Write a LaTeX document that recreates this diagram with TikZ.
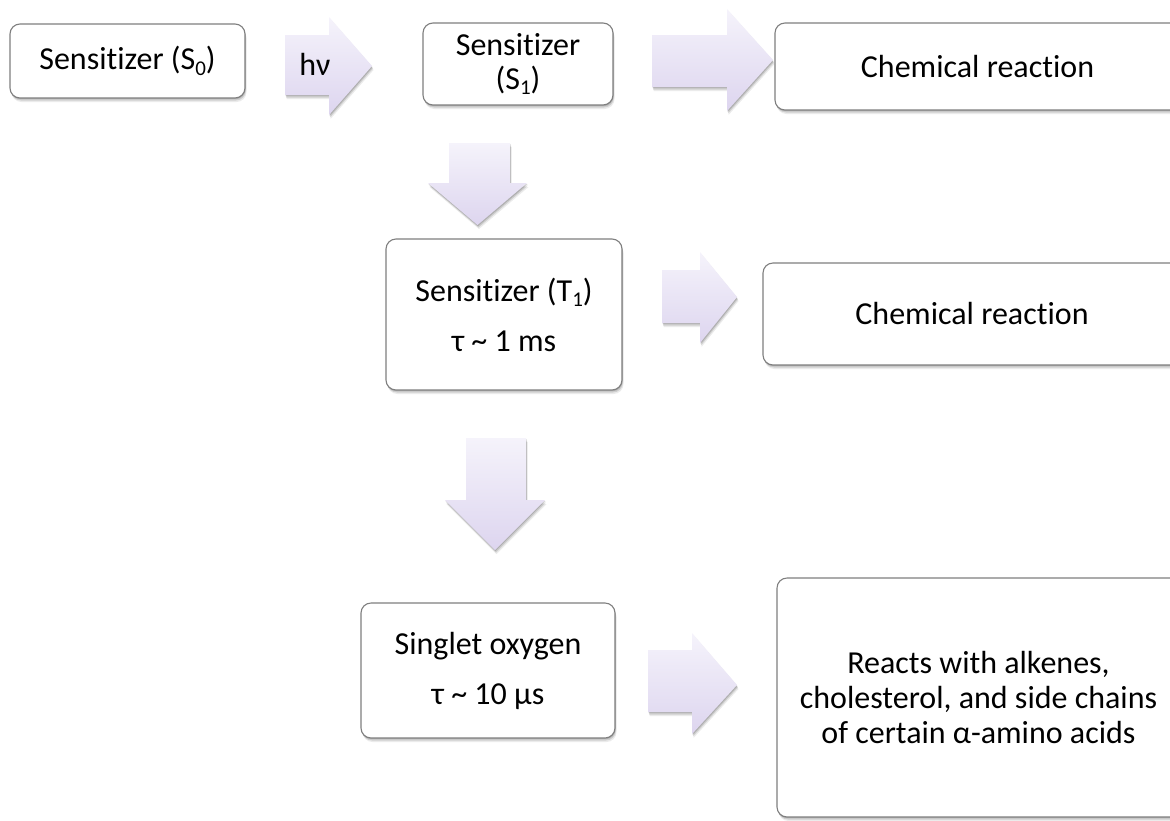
\documentclass[tikz,border=0pt]{standalone}
\usepackage{fontspec}
\setmainfont{Carlito}[Ligatures=NoCommon]
\usetikzlibrary{shadows}
\definecolor{boxgray}{HTML}{7F7F7F}
\definecolor{arrtop}{HTML}{F5F3FB}
\definecolor{arrbot}{HTML}{DDD5EF}
\newcommand{\lowsub}[1]{\raisebox{-5.5pt}{\fontsize{21}{21}\selectfont #1}}
\tikzset{
  softshadow/.style={
    general shadow={shadow xshift=1.5pt, shadow yshift=-4pt, fill=black, opacity=0.08},
    general shadow={shadow xshift=1pt, shadow yshift=-2.5pt, fill=black, opacity=0.12},
    general shadow={shadow xshift=0.5pt, shadow yshift=-1.2pt, fill=black, opacity=0.15}},
  stagebox/.style={draw=boxgray, line width=1.1pt, rounded corners=10pt, fill=white,
    align=center, inner sep=0pt, font=\fontsize{32}{36}\selectfont, softshadow},
  blockarrow/.style={top color=arrtop, bottom color=arrbot, draw=none, softshadow},
  arrowlabel/.style={inner sep=0pt, font=\fontsize{32}{36}\selectfont}
}
\begin{document}
\begin{tikzpicture}[x=1pt,y=-1pt]
\path[use as bounding box, clip] (0,0) rectangle (1170,820);
\fill[white] (0,0) rectangle (1170,820);

% block arrows
\path[blockarrow] (285,35) -- (329,35) -- (329,17) -- (372,66) -- (329,115) -- (329,95) -- (285,95) -- cycle;
\node[arrowlabel] (hv) at (315,64) {hν};
\path[blockarrow] (652,35) -- (727,35) -- (727,9) -- (773,60) -- (727,111) -- (727,87) -- (652,87) -- cycle;
\path[blockarrow] (449,143) -- (510,143) -- (510,183) -- (527,183) -- (477.5,225) -- (428,183) -- (449,183) -- cycle;
\path[blockarrow] (662,270) -- (700,270) -- (700,252) -- (737,297) -- (700,343) -- (700,323) -- (662,323) -- cycle;
\path[blockarrow] (466,438) -- (526,438) -- (526,500) -- (545,500) -- (495,550) -- (445,500) -- (466,500) -- cycle;
\path[blockarrow] (648,650) -- (692,650) -- (692,633) -- (737,685) -- (692,734) -- (692,712) -- (648,712) -- cycle;

% boxes
\node[stagebox, minimum width=235, minimum height=74] (s0) at (127.5,61) {Sensitizer (S\lowsub{0})};
\node[stagebox, minimum width=190, minimum height=82, font=\fontsize{32}{34}\selectfont] (s1) at (518,64) {Sensitizer\\(S\lowsub{1})};
\node[stagebox, minimum width=405, minimum height=87] (c1) at (977.5,66.5) {Chemical reaction};
\node[stagebox, minimum width=236, minimum height=151] (t1) at (504,314.5) {Sensitizer (T\lowsub{1})\\[14pt]τ \textasciitilde{} 1 ms};
\node[stagebox, minimum width=418, minimum height=102] (c2) at (972,314) {Chemical reaction};
\node[stagebox, minimum width=254, minimum height=135] (so) at (488,670.5) {Singlet oxygen\\[14pt]τ \textasciitilde{} 10 µs};
\node[stagebox, minimum width=403, minimum height=239, font=\fontsize{32}{35}\selectfont] (r) at (978.5,697.5) {Reacts with alkenes,\\cholesterol, and side chains\\of certain α-amino acids};
\end{tikzpicture}
\end{document}
